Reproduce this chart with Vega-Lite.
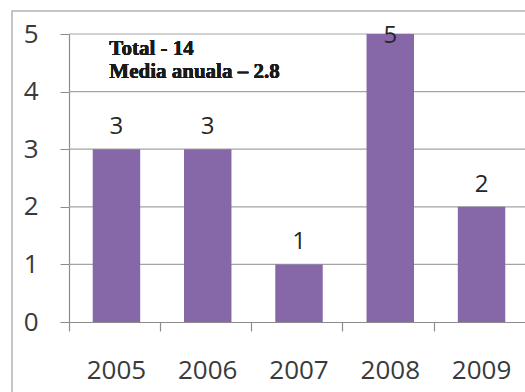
{
  "$schema": "https://vega.github.io/schema/vega-lite/v6.json",
  "width": 525,
  "height": 400,
  "autosize": "none",
  "padding": {"left": 12, "top": 11, "right": 0, "bottom": 0},
  "background": "white",
  "config": {
    "view": {"stroke": "#b3b3b3", "strokeWidth": 1.5},
    "font": "Open Sans"
  },
  "data": {
    "values": [
      {"year": "2005", "n": 3},
      {"year": "2006", "n": 3},
      {"year": "2007", "n": 1},
      {"year": "2008", "n": 5},
      {"year": "2009", "n": 2}
    ]
  },
  "resolve": {"axis": {"x": "independent"}},
  "layer": [
    {
      "data": {"values": [{"g": 1}, {"g": 2}, {"g": 3}, {"g": 4}, {"g": 5}]},
      "mark": {"type": "rule", "color": "#a3a3a3", "strokeWidth": 1.2},
      "encoding": {
        "y": {"field": "g", "type": "quantitative"},
        "x": {"datum": "2005", "type": "nominal", "bandPosition": -0.5, "axis": null},
        "x2": {"datum": "2009", "bandPosition": 1.5}
      }
    },
    {
      "mark": {"type": "bar", "color": "#8667a8"},
      "encoding": {
        "x": {
          "field": "year",
          "type": "nominal",
          "scale": {
            "domain": ["2005", "2006", "2007", "2008", "2009"],
            "range": [57, 517],
            "paddingInner": 0.48,
            "paddingOuter": 0.26
          },
          "axis": {
            "title": null,
            "orient": "bottom",
            "offset": -89,
            "labelAngle": 0,
            "labelFontSize": 26,
            "labelColor": "#3a3a3a",
            "labelPadding": 35,
            "ticks": false,
            "domainColor": "#8c8c8c",
            "domainWidth": 1.2,
            "grid": false
          }
        },
        "y": {
          "field": "n",
          "type": "quantitative",
          "scale": {"domain": [0, 5], "range": [311, 23], "nice": false},
          "axis": {
            "title": null,
            "offset": -57,
            "values": [0, 1, 2, 3, 4, 5],
            "format": "d",
            "labelFontSize": 26,
            "labelColor": "#3a3a3a",
            "labelPadding": 22,
            "tickSize": 9,
            "tickColor": "#8c8c8c",
            "domainColor": "#8c8c8c",
            "domainWidth": 1.2,
            "grid": false
          }
        }
      }
    },
    {
      "transform": [{"filter": "datum.n < 5"}],
      "mark": {"type": "text", "fontSize": 24, "color": "#262626", "baseline": "alphabetic", "dy": -15},
      "encoding": {
        "x": {
          "field": "year",
          "type": "nominal",
          "axis": {
            "title": null,
            "orient": "bottom",
            "offset": -89,
            "bandPosition": -0.5,
            "labels": false,
            "domain": false,
            "tickSize": 9,
            "tickColor": "#8c8c8c",
            "tickWidth": 1.2,
            "grid": false
          }
        },
        "y": {"field": "n", "type": "quantitative"},
        "text": {"field": "n", "type": "quantitative"}
      }
    },
    {
      "transform": [{"filter": "datum.n >= 5"}],
      "mark": {"type": "text", "fontSize": 24, "color": "#262626", "baseline": "alphabetic", "dy": 9},
      "encoding": {
        "x": {"field": "year", "type": "nominal", "axis": null},
        "y": {"field": "n", "type": "quantitative"},
        "text": {"field": "n", "type": "quantitative"}
      }
    },
    {
      "mark": {
        "type": "text",
        "font": "Liberation Serif",
        "fontWeight": "bold",
        "fontSize": 21,
        "color": "#1a1a1a",
        "align": "left",
        "baseline": "alphabetic",
        "lineHeight": 23
      },
      "encoding": {
        "x": {"datum": "2005", "type": "nominal", "bandPosition": 0.35, "axis": null},
        "y": {"datum": 4.64, "type": "quantitative"},
        "text": {"value": ["Total - 14", "Media anuala – 2.8"]}
      }
    }
  ]
}
